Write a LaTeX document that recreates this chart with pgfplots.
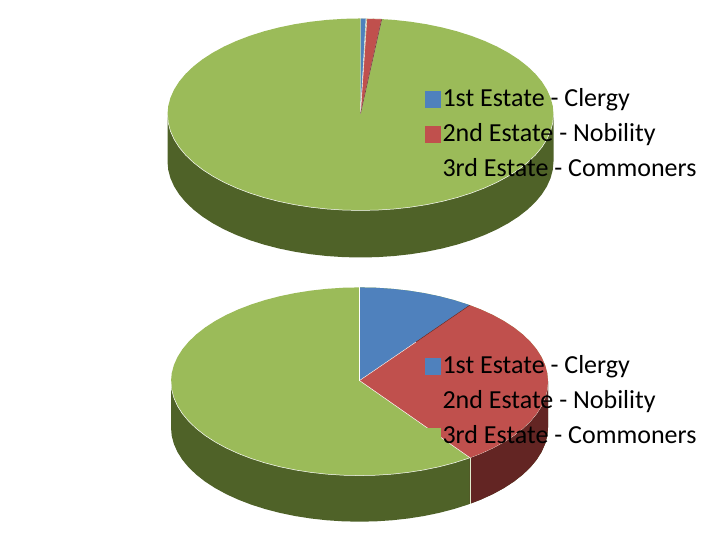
\documentclass[border=0pt]{standalone}
\usepackage{pgfplots}
\usepackage{pgfplotstable}
\usepackage{fontspec}
\setmainfont{Carlito}
\pgfplotsset{compat=1.18}

\definecolor{clergy}{HTML}{4F81BD}
\definecolor{nobility}{HTML}{C0504D}
\definecolor{commoners}{HTML}{9BBB59}
\definecolor{nobilityside}{HTML}{632523}
\definecolor{commonersside}{HTML}{4F6228}

% pie top, clockwise from the right: front half (rows 0-36), then back half
\pgfplotstableread{
x y
1 0
.9962 -.0872
.9848 -.1736
.9659 -.2588
.9397 -.3420
.9063 -.4226
.8660 -.5
.8192 -.5736
.7660 -.6428
.7071 -.7071
.6428 -.7660
.5736 -.8192
.5 -.8660
.4226 -.9063
.3420 -.9397
.2588 -.9659
.1736 -.9848
.0872 -.9962
0 -1
-.0872 -.9962
-.1736 -.9848
-.2588 -.9659
-.3420 -.9397
-.4226 -.9063
-.5 -.8660
-.5736 -.8192
-.6428 -.7660
-.7071 -.7071
-.7660 -.6428
-.8192 -.5736
-.8660 -.5
-.9063 -.4226
-.9397 -.3420
-.9659 -.2588
-.9848 -.1736
-.9962 -.0872
-1 0
-.9962 .0872
-.9848 .1736
-.9659 .2588
-.9397 .3420
-.9063 .4226
-.8660 .5
-.8192 .5736
-.7660 .6428
-.7071 .7071
-.6428 .7660
-.5736 .8192
-.5 .8660
-.4226 .9063
-.3420 .9397
-.2588 .9659
-.1736 .9848
-.0872 .9962
0 1
.0872 .9962
.1736 .9848
.2588 .9659
.3420 .9397
.4226 .9063
.5 .8660
.5736 .8192
.6428 .7660
.7071 .7071
.7660 .6428
.8192 .5736
.8660 .5
.9063 .4226
.9397 .3420
.9659 .2588
.9848 .1736
.9962 .0872
}\pietop

% rim, bottom edge is the front half dropped by 0.49
\pgfplotstableread{
x y
1 0
1 -.49
.9962 -.5772
.9848 -.6636
.9659 -.7488
.9397 -.8320
.9063 -.9126
.8660 -.99
.8192 -1.0636
.7660 -1.1328
.7071 -1.1971
.6428 -1.2560
.5736 -1.3092
.5 -1.3560
.4226 -1.3963
.3420 -1.4297
.2588 -1.4559
.1736 -1.4748
.0872 -1.4862
0 -1.49
-.0872 -1.4862
-.1736 -1.4748
-.2588 -1.4559
-.3420 -1.4297
-.4226 -1.3963
-.5 -1.3560
-.5736 -1.3092
-.6428 -1.2560
-.7071 -1.1971
-.7660 -1.1328
-.8192 -1.0636
-.8660 -.99
-.9063 -.9126
-.9397 -.8320
-.9659 -.7488
-.9848 -.6636
-.9962 -.5772
-1 -.49
-1 0
}\pierim

% lower chart, the three slices that need their own shape
\pgfplotstableread{
x y
0 .01
0 1
.0872 .9962
.1736 .9848
.2588 .9659
.3420 .9397
.4226 .9063
.5 .8660
.5736 .8192
.585 .811
}\clergylow

\pgfplotstableread{
x y
0 .01
.585 .811
.6428 .7660
.7071 .7071
.7660 .6428
.8192 .5736
.8660 .5
.9063 .4226
.9397 .3420
.9659 .2588
.9848 .1736
.9962 .0872
1 0
.9962 -.0872
.9848 -.1736
.9659 -.2588
.9397 -.3420
.9063 -.4226
.8660 -.5
.8192 -.5736
.7660 -.6428
.7071 -.7071
.6428 -.7660
.586 -.81
}\nobilitylow

\pgfplotstableread{
x y
1 0
1 -.49
.9962 -.5772
.9848 -.6636
.9659 -.7488
.9397 -.8320
.9063 -.9126
.8660 -.99
.8192 -1.0636
.7660 -1.1328
.7071 -1.1971
.6428 -1.2560
.586 -1.30
.586 -.81
}\nobilitylowrim

\pgfplotsset{pie/.style={
    hide axis, scale only axis, clip=false,
    xmin=-1, xmax=1, ymin=-1.49, ymax=1,
    anchor=south west}}

\begin{document}
\begin{tikzpicture}
\path[use as bounding box] (0,0) rectangle (720pt,540pt);

% upper chart
\begin{axis}[pie, at={(167.5pt,282.5pt)}, width=386pt, height=239.04pt]
  \addplot[fill=commonersside, draw=none] table {\pierim} -- cycle;
  \addplot[fill=commoners, draw=none] table {\pietop} -- cycle;
  \addplot[white, line width=0.5pt, skip coords between index={37}{72}] table {\pietop};
  \addplot[fill=clergy, draw=white, line width=0.4pt] coordinates {(0,.01) (0,1) (.0285,.9996)} -- cycle;
  \addplot[fill=nobility, draw=white, line width=0.4pt] coordinates {(0,.01) (.033,.9995) (.11,.994)} -- cycle;
  \addplot[nobilityside, line width=0.5pt] coordinates {(0,.01) (.11,.994)};
\end{axis}

% lower chart
\begin{axis}[pie, at={(171pt,18.3pt)}, width=377pt, height=234.06pt]
  \addplot[fill=commonersside, draw=none] table {\pierim} -- cycle;
  \addplot[fill=nobilityside, draw=none] table {\nobilitylowrim} -- cycle;
  \addplot[white!70!commoners, line width=0.5pt] coordinates {(.586,-.81) (.586,-1.30)};
  \addplot[fill=commoners, draw=none] table {\pietop} -- cycle;
  \addplot[white, line width=0.5pt, skip coords between index={37}{72}] table {\pietop};
  \addplot[fill=clergy, draw=none] table {\clergylow} -- cycle;
  \addplot[fill=nobility, draw=none] table {\nobilitylow} -- cycle;
  \addplot[white, line width=0.5pt] coordinates {(0,.01) (0,1)};
  \addplot[nobilityside, line width=0.4pt] coordinates {(.3,.42) (.585,.811)};
  \addplot[white, line width=0.4pt] coordinates {(0,.01) (.3,.42)};
  \addplot[white, line width=0.5pt] coordinates {(0,.01) (.586,-.81)};
\end{axis}

% legends, sitting over the pies as in the slide
\fill[clergy] (425pt,432pt) rectangle (441pt,449pt);
\fill[nobility] (425pt,397pt) rectangle (441pt,414pt);
\fill[commoners] (425pt,362pt) rectangle (441pt,379pt);
\fill[clergy] (425pt,165pt) rectangle (441pt,182pt);
\fill[nobility] (425pt,130pt) rectangle (441pt,147pt);
\fill[commoners] (425pt,95pt) rectangle (441pt,112pt);

\begin{scope}[every node/.style={anchor=base west, inner sep=0pt, font=\fontsize{26pt}{30pt}\selectfont}]
  \node at (442.3pt,433pt) {1st Estate - Clergy};
  \node at (442.3pt,398.3pt) {2nd Estate - Nobility};
  \node at (442.3pt,363.3pt) {3rd Estate - Commoners};
  \node at (442.3pt,166pt) {1st Estate - Clergy};
  \node at (442.3pt,131pt) {2nd Estate - Nobility};
  \node at (442.3pt,96.3pt) {3rd Estate - Commoners};
\end{scope}
\end{tikzpicture}
\end{document}
